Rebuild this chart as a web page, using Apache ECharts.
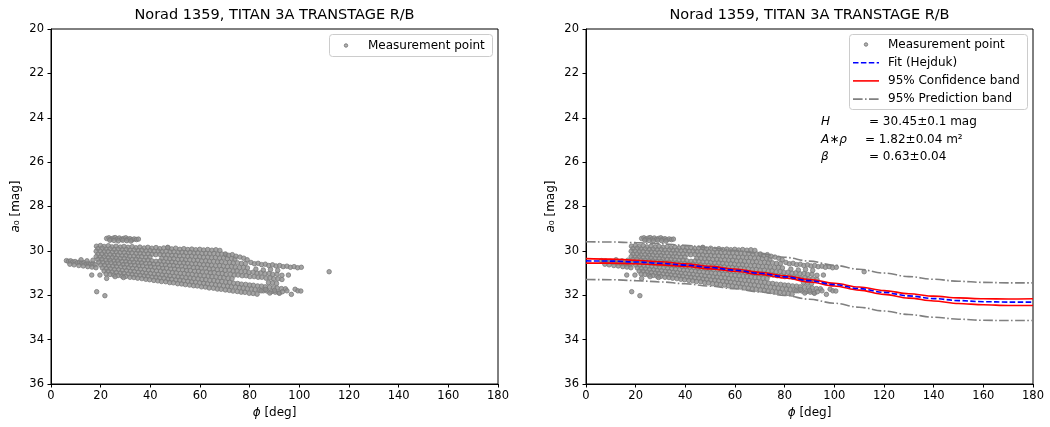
<!DOCTYPE html>
<html>
<head>
<meta charset="utf-8">
<script src="https://cdn.jsdelivr.net/npm/echarts@6/dist/echarts.min.js"></script>
<style>
html, body { margin: 0; padding: 0; background: #fff; }
#chart { width: 1050px; height: 427px; }
</style>
</head>
<body>
<div id="chart"></div>
<script>
const chartTitle = 'Norad 1359, TITAN 3A TRANSTAGE R/B';

// Measured passes: [phase angle deg, a0 mag]
const passTop = [[22.4,29.44],[23.3,29.41],[24.1,29.47],[25.0,29.43],[25.8,29.40],[26.7,29.46],[27.5,29.42],[28.4,29.48],[29.2,29.44],[30.1,29.41],[30.9,29.47],[31.8,29.45],[32.6,29.50],[33.5,29.46],[34.4,29.49],[35.2,29.47],[23.7,29.52],[25.4,29.53],[27.1,29.55],[28.9,29.52],[30.5,29.54],[32.2,29.56]];
const passTail = [[6.2,30.44],[7.0,30.47],[7.9,30.45],[8.8,30.50],[9.7,30.48],[10.6,30.53],[11.5,30.51],[12.4,30.55],[13.3,30.53],[14.2,30.58],[15.1,30.56],[16.0,30.60],[16.9,30.58],[17.8,30.62],[7.6,30.60],[9.3,30.63],[11.2,30.66],[13.0,30.68],[14.8,30.71],[16.5,30.73],[18.1,30.76],[12.1,30.40],[14.5,30.45],[16.9,30.42]];
const passA = [[18.3,29.79],[19.9,29.76],[21.4,29.80],[23.1,29.77],[24.6,29.82],[26.2,29.79],[27.9,29.83],[29.4,29.80],[31.0,29.84],[32.7,29.81],[34.2,29.86],[35.8,29.83],[37.5,29.87],[39.0,29.84],[40.6,29.88],[42.3,29.85],[43.8,29.90],[45.4,29.87],[47.1,29.86],[48.6,29.91],[50.2,29.88],[51.9,29.93],[53.5,29.90],[55.1,29.94],[56.7,29.92],[58.3,29.95],[59.9,29.93],[61.5,29.96],[63.1,29.94],[64.8,29.97],[66.4,29.95],[68.0,29.98]];
const passB = [[18.9,29.90],[20.6,29.88],[22.2,29.92],[23.8,29.91],[25.5,29.94],[27.0,29.92],[28.7,29.95],[30.3,29.94],[31.8,29.97],[33.5,29.96],[35.1,29.99],[36.6,29.97],[38.3,30.00],[39.9,29.99],[41.5,30.02],[43.2,30.01],[44.7,30.04],[46.4,30.02],[48.0,30.05],[49.5,30.04],[51.2,30.07],[52.8,30.06],[54.3,30.08],[56.0,30.07],[57.6,30.10],[59.1,30.09],[60.8,30.12],[62.4,30.11],[63.9,30.13],[65.6,30.12],[67.2,30.15],[68.8,30.14],[70.4,30.17]];
const passC = [[18.2,30.02],[19.8,30.01],[21.5,30.04],[23.0,30.03],[24.7,30.06],[26.3,30.05],[27.8,30.08],[29.5,30.07],[31.1,30.10],[32.6,30.09],[34.3,30.12],[35.9,30.11],[37.4,30.14],[39.1,30.13],[40.7,30.15],[42.2,30.17],[43.9,30.16],[45.5,30.19],[47.0,30.18],[48.7,30.21],[50.3,30.20],[51.8,30.23],[53.5,30.22],[55.1,30.25],[56.6,30.24],[58.3,30.27],[59.9,30.26],[61.4,30.29],[63.1,30.28],[64.7,30.31],[66.2,30.30],[67.9,30.33],[69.5,30.32],[71.0,30.35],[72.7,30.34],[74.1,30.37]];
const passD = [[18.9,30.15],[20.5,30.14],[22.1,30.18],[23.8,30.17],[25.4,30.20],[26.9,30.19],[28.6,30.22],[30.2,30.21],[31.7,30.25],[33.4,30.24],[35.0,30.27],[36.5,30.26],[38.2,30.29],[39.8,30.28],[44.6,30.34],[46.3,30.33],[47.9,30.36],[49.4,30.35],[51.1,30.39],[52.7,30.38],[54.2,30.41],[55.9,30.40],[57.5,30.43],[59.0,30.42],[60.7,30.46],[62.3,30.45],[63.8,30.48],[65.5,30.47],[67.1,30.50],[68.6,30.49],[70.3,30.53],[71.9,30.52],[73.4,30.55],[75.1,30.54],[76.7,30.57],[78.3,30.57]];
const passE = [[18.2,30.26],[19.8,30.28],[21.4,30.27],[23.1,30.31],[24.7,30.30],[26.2,30.33],[27.9,30.35],[29.5,30.34],[31.0,30.37],[32.7,30.39],[34.3,30.38],[35.8,30.41],[37.5,30.43],[39.1,30.42],[40.6,30.45],[42.3,30.47],[43.9,30.46],[45.4,30.49],[47.1,30.51],[48.7,30.50],[50.2,30.53],[51.9,30.55],[53.5,30.54],[55.0,30.57],[56.7,30.59],[58.3,30.58],[59.8,30.61],[61.5,30.63],[63.1,30.62],[64.6,30.65],[66.3,30.67],[67.9,30.66],[69.4,30.69],[71.1,30.71],[72.7,30.70],[74.2,30.73],[75.9,30.75],[77.5,30.74],[79.1,30.77]];
const passF = [[18.9,30.39],[20.5,30.38],[22.1,30.42],[23.8,30.42],[25.4,30.45],[26.9,30.45],[28.6,30.48],[30.2,30.48],[31.7,30.51],[33.4,30.51],[35.0,30.54],[36.5,30.54],[38.2,30.57],[39.8,30.57],[41.3,30.60],[43.0,30.60],[44.6,30.63],[46.1,30.63],[47.8,30.66],[49.4,30.66],[50.9,30.69],[52.6,30.69],[54.2,30.72],[55.7,30.72],[57.4,30.76],[59.0,30.75],[60.5,30.78],[62.2,30.78],[63.8,30.82],[65.3,30.81],[67.0,30.85],[68.6,30.84],[70.1,30.88],[71.8,30.87],[73.4,30.91],[74.9,30.90],[76.6,30.94],[78.2,30.93],[79.7,30.97],[81.4,30.96],[83.0,31.00],[84.5,30.99],[86.2,31.03],[87.8,31.02],[89.3,31.06],[91.0,31.05]];
const passG = [[19.3,30.51],[20.9,30.52],[22.5,30.55],[24.2,30.54],[25.8,30.58],[27.3,30.58],[29.0,30.62],[30.6,30.61],[32.1,30.65],[33.8,30.65],[35.4,30.68],[36.9,30.68],[38.6,30.72],[40.2,30.71],[41.7,30.75],[43.4,30.75],[45.0,30.79],[46.5,30.78],[48.2,30.82],[49.8,30.82],[51.3,30.85],[53.0,30.85],[54.6,30.89],[56.1,30.88],[57.8,30.92],[59.4,30.92],[60.9,30.95],[62.6,30.95],[64.2,30.99],[65.7,30.98],[67.4,31.02],[69.0,31.02],[70.5,31.06],[72.2,31.05],[73.8,31.09],[75.3,31.09],[77.0,31.12],[78.6,31.12],[80.1,31.16],[81.8,31.16],[83.4,31.19],[84.9,31.19],[86.6,31.23],[88.2,31.22],[89.7,31.26],[91.4,31.26],[93.0,31.29]];
const passH = [[20.0,30.64],[21.6,30.65],[23.3,30.68],[24.9,30.69],[26.4,30.71],[28.1,30.72],[29.7,30.75],[31.2,30.76],[32.9,30.79],[34.5,30.80],[36.0,30.83],[37.7,30.84],[39.3,30.87],[40.8,30.87],[42.5,30.90],[44.1,30.91],[45.6,30.94],[47.3,30.95],[48.9,30.98],[50.4,30.99],[52.1,31.02],[53.7,31.02],[55.2,31.05],[56.9,31.06],[58.5,31.09],[60.0,31.10],[61.7,31.13],[63.3,31.14],[64.8,31.16],[66.5,31.17],[68.1,31.20],[69.6,31.21],[71.3,31.24],[72.9,31.25],[87.6,31.43],[89.2,31.44],[90.8,31.47]];
const passI = [[20.7,30.77],[22.3,30.80],[23.9,30.81],[25.6,30.84],[27.2,30.85],[28.7,30.88],[30.4,30.89],[32.0,30.92],[33.5,30.93],[35.2,30.96],[36.8,30.98],[38.3,31.01],[40.0,31.02],[41.6,31.05],[43.1,31.06],[44.8,31.09],[46.4,31.10],[47.9,31.13],[49.6,31.14],[51.2,31.17],[52.7,31.18],[54.4,31.21],[56.0,31.22],[57.5,31.25],[59.2,31.26],[60.8,31.29],[62.3,31.30],[64.0,31.33],[65.6,31.34],[67.1,31.37],[68.8,31.38],[70.4,31.41],[71.9,31.42],[73.6,31.46],[75.2,31.47],[76.7,31.50],[78.4,31.51],[80.0,31.54],[81.5,31.55],[83.2,31.58],[84.8,31.59],[86.3,31.62],[88.0,31.63],[89.6,31.66],[91.1,31.67],[92.8,31.70],[94.4,31.71]];
const passJ = [[21.4,30.91],[23.0,30.92],[24.6,30.95],[26.3,30.97],[27.9,31.00],[29.4,31.01],[31.1,31.04],[32.7,31.06],[34.2,31.09],[35.9,31.10],[37.5,31.13],[39.0,31.14],[40.7,31.18],[42.3,31.19],[43.8,31.22],[45.5,31.23],[47.1,31.27],[48.6,31.28],[50.3,31.31],[51.9,31.32],[53.4,31.35],[55.1,31.37],[56.7,31.40],[58.2,31.41],[59.9,31.44],[61.5,31.46],[63.0,31.49],[64.7,31.50],[66.3,31.53],[67.8,31.54],[69.5,31.58],[71.1,31.59],[72.6,31.62],[74.3,31.63],[75.9,31.66],[77.4,31.68],[79.1,31.71],[80.7,31.72],[82.2,31.75],[83.9,31.77],[85.5,31.80],[87.0,31.81],[88.7,31.84],[90.3,31.86],[91.8,31.89]];
const passK = [[22.2,31.04],[23.8,31.06],[25.3,31.09],[27.0,31.11],[28.6,31.14],[30.1,31.15],[31.8,31.19],[33.4,31.20],[34.9,31.23],[36.6,31.25],[38.2,31.28],[39.7,31.30],[41.4,31.33],[43.0,31.35],[44.5,31.38],[46.2,31.39],[47.8,31.43],[49.3,31.44],[51.0,31.48],[52.6,31.49],[54.1,31.52],[55.8,31.54],[57.4,31.57],[58.9,31.58],[60.6,31.62],[62.2,31.63],[63.7,31.67],[65.4,31.68],[67.0,31.72],[68.5,31.73],[70.2,31.76],[71.8,31.78],[73.3,31.81],[75.0,31.83],[76.6,31.86],[78.1,31.87],[79.8,31.91],[81.4,31.92],[83.0,31.95]];
const passUpperRight = [[70.2,30.14],[71.6,30.20],[73.0,30.17],[74.5,30.24],[76.1,30.28],[77.6,30.33],[79.0,30.40],[80.5,30.52],[81.9,30.58],[83.4,30.56],[84.8,30.62],[86.3,30.60],[87.7,30.66],[89.2,30.63],[90.6,30.68],[92.1,30.66],[93.5,30.71],[95.0,30.69],[96.4,30.74],[97.9,30.71],[99.3,30.76],[100.8,30.74],[82.5,30.82],[85.5,30.86],[88.4,30.84],[91.3,30.88],[93.0,31.10],[95.6,31.09]];
const passLowerRight = [[84.6,31.80],[86.4,31.74],[88.1,31.90],[90.0,31.78],[92.0,31.91],[93.2,31.84],[95.0,31.80],[98.3,31.73],[99.4,31.80],[100.6,31.81],[96.8,31.96]];
const passSparse = [[16.4,31.09],[19.7,31.09],[22.4,31.24],[25.8,31.16],[29.2,31.20],[18.4,31.84],[21.7,32.02],[47.0,29.84],[112.0,30.94]];

// Hejduk phase-function fit and its bands, sampled every 10 deg
const curvePhase = [0,10,20,30,40,50,60,70,80,90,100,110,120,130,140,150,160,170,180];
const fitMag     = [30.45,30.46,30.50,30.56,30.64,30.75,30.87,31.01,31.17,31.34,31.52,31.70,31.87,32.03,32.15,32.24,32.29,32.31,32.31];
const confUpper  = [30.35,30.37,30.42,30.49,30.58,30.70,30.82,30.96,31.12,31.29,31.46,31.63,31.79,31.93,32.04,32.12,32.16,32.17,32.16];
const confLower  = [30.55,30.55,30.58,30.63,30.70,30.81,30.92,31.06,31.22,31.40,31.58,31.77,31.96,32.13,32.26,32.37,32.43,32.46,32.46];
const predUpper  = [29.59,29.60,29.63,29.68,29.75,29.86,29.98,30.12,30.29,30.46,30.65,30.83,31.00,31.16,31.28,31.37,31.42,31.44,31.44];
const predLower  = [31.29,31.30,31.34,31.40,31.48,31.59,31.71,31.85,32.01,32.18,32.36,32.54,32.71,32.87,32.99,33.08,33.13,33.14,33.14];

const fitSymbols = ['H', 'A\u2217\u03c1', '\u03b2'];
const fitValues  = ['= 30.45\u00b10.1 mag', '= 1.82\u00b10.04 m\u00b2', '= 0.63\u00b10.04'];
const legendLabels = ['Measurement point', 'Fit (Hejduk)', '95% Confidence band', '95% Prediction band'];

const measurements = [].concat(passTop, passTail, passA, passB, passC, passD, passE, passF,
  passG, passH, passI, passJ, passK, passUpperRight, passLowerRight, passSparse);
const curve = ys => curvePhase.map((x, i) => [x, ys[i]]);

const FONT = '"DejaVu Sans", sans-serif';
const GRID = [{ left: 51, top: 29, width: 447, height: 355 }, { left: 586, top: 29, width: 447, height: 355 }];

function makeX(i) {
  return {
    gridIndex: i, type: 'value', min: 0, max: 180, interval: 20,
    name: '{i|\u03d5} [deg]', nameLocation: 'middle', nameGap: 19,
    nameTextStyle: { color: '#000', fontSize: 12, fontFamily: FONT, rich: { i: { fontStyle: 'italic', fontSize: 12, fontFamily: FONT } } },
    axisLine: { show: true, onZero: false, lineStyle: { color: '#000', width: 1 } },
    axisTick: { show: true, inside: false, length: 3.5, lineStyle: { color: '#000' } },
    axisLabel: { color: '#000', fontSize: 11.5, fontFamily: FONT, margin: 6 },
    splitLine: { show: false }
  };
}
function makeY(i) {
  return {
    gridIndex: i, type: 'value', min: 20, max: 36, interval: 2, inverse: true,
    name: '{i|a}\u2080 [mag]', nameLocation: 'middle', nameGap: 29,
    nameTextStyle: { color: '#000', fontSize: 12, fontFamily: FONT, rich: { i: { fontStyle: 'italic', fontSize: 12, fontFamily: FONT } } },
    axisLine: { show: true, onZero: false, lineStyle: { color: '#000', width: 1 } },
    axisTick: { show: true, inside: false, length: 3.5, lineStyle: { color: '#000' } },
    axisLabel: { color: '#000', fontSize: 11.5, fontFamily: FONT, margin: 7 },
    splitLine: { show: false }
  };
}

const pointStyle = { color: '#8e8e8e', borderColor: '#7a7a7a', borderWidth: 1 };
function scatter(i) {
  return {
    type: 'scatter', xAxisIndex: i, yAxisIndex: i, data: measurements,
    symbol: 'circle', symbolSize: 4.5, itemStyle: pointStyle, z: 2, silent: true
  };
}
function band(ys, color, type, z) {
  return {
    type: 'line', xAxisIndex: 1, yAxisIndex: 1, data: curve(ys), showSymbol: false,
    smooth: 0.35, smoothMonotone: 'x', z: z, silent: true,
    lineStyle: { color: color, width: 1.6, type: type }
  };
}

function txt(x, y, text, opts) {
  return {
    type: 'text', x: x, y: y, z: 100,
    style: Object.assign({ text: text, fill: '#000', font: '12px ' + FONT, align: 'left', verticalAlign: 'middle' }, opts || {})
  };
}

const graphics = [];
// panel titles
GRID.forEach(g => graphics.push(txt(g.left + g.width / 2, 15, chartTitle, { font: '14.5px ' + FONT, align: 'center' })));

// legend of the left panel
graphics.push({ type: 'rect', z: 90, shape: { x: 329.5, y: 34.5, width: 163, height: 22, r: 3 },
  style: { fill: 'rgba(255,255,255,0.8)', stroke: '#cccccc', lineWidth: 1 } });
graphics.push({ type: 'circle', z: 95, shape: { cx: 346, cy: 45.5, r: 1.7 }, style: { fill: '#b4b4b4', stroke: '#7c7c7c', lineWidth: 1 } });
graphics.push(txt(368, 45.5, legendLabels[0]));

// legend of the right panel
const lx = 849.5, ly = 34.5, rowH = 18.2;
graphics.push({ type: 'rect', z: 90, shape: { x: lx, y: ly, width: 178, height: 75, r: 3 },
  style: { fill: 'rgba(255,255,255,0.8)', stroke: '#cccccc', lineWidth: 1 } });
graphics.push({ type: 'circle', z: 95, shape: { cx: 866, cy: 44.5, r: 1.7 }, style: { fill: '#b4b4b4', stroke: '#7c7c7c', lineWidth: 1 } });
graphics.push({ type: 'line', z: 95, shape: { x1: 853, y1: 44.5 + rowH, x2: 879, y2: 44.5 + rowH },
  style: { stroke: '#0000ff', lineWidth: 1.6, lineDash: [5.5, 2.4] } });
graphics.push({ type: 'line', z: 95, shape: { x1: 853, y1: 44.5 + 2 * rowH, x2: 879, y2: 44.5 + 2 * rowH },
  style: { stroke: '#ff0000', lineWidth: 1.6 } });
graphics.push({ type: 'line', z: 95, shape: { x1: 853, y1: 44.5 + 3 * rowH, x2: 879, y2: 44.5 + 3 * rowH },
  style: { stroke: '#808080', lineWidth: 1.6, lineDash: [9.6, 2.4, 1.6, 2.4] } });
legendLabels.forEach((t, k) => graphics.push(txt(888, 44.5 + k * rowH, t)));

// fitted parameters
const paramY = [122, 139.5, 157];
const paramX = [869, 865, 869];
fitSymbols.forEach((s, k) => {
  graphics.push(txt(821, paramY[k], s, { font: 'italic 12px ' + FONT }));
  graphics.push(txt(paramX[k], paramY[k], fitValues[k]));
});

const chart = echarts.init(document.getElementById('chart'), null, { renderer: 'canvas' });
chart.setOption({
  animation: false,
  backgroundColor: '#ffffff',
  grid: GRID.map(g => Object.assign({ show: true, borderColor: '#000', borderWidth: 1, backgroundColor: 'transparent', containLabel: false }, g)),
  xAxis: [makeX(0), makeX(1)],
  yAxis: [makeY(0), makeY(1)],
  series: [
    scatter(0),
    scatter(1),
    band(predUpper, '#808080', [9.6, 2.4, 1.6, 2.4], 5),
    band(predLower, '#808080', [9.6, 2.4, 1.6, 2.4], 5),
    band(confUpper, '#ff0000', 'solid', 6),
    band(confLower, '#ff0000', 'solid', 6),
    band(fitMag, '#0000ff', [5.5, 2.4], 7)
  ],
  graphic: graphics
});
</script>
</body>
</html>
